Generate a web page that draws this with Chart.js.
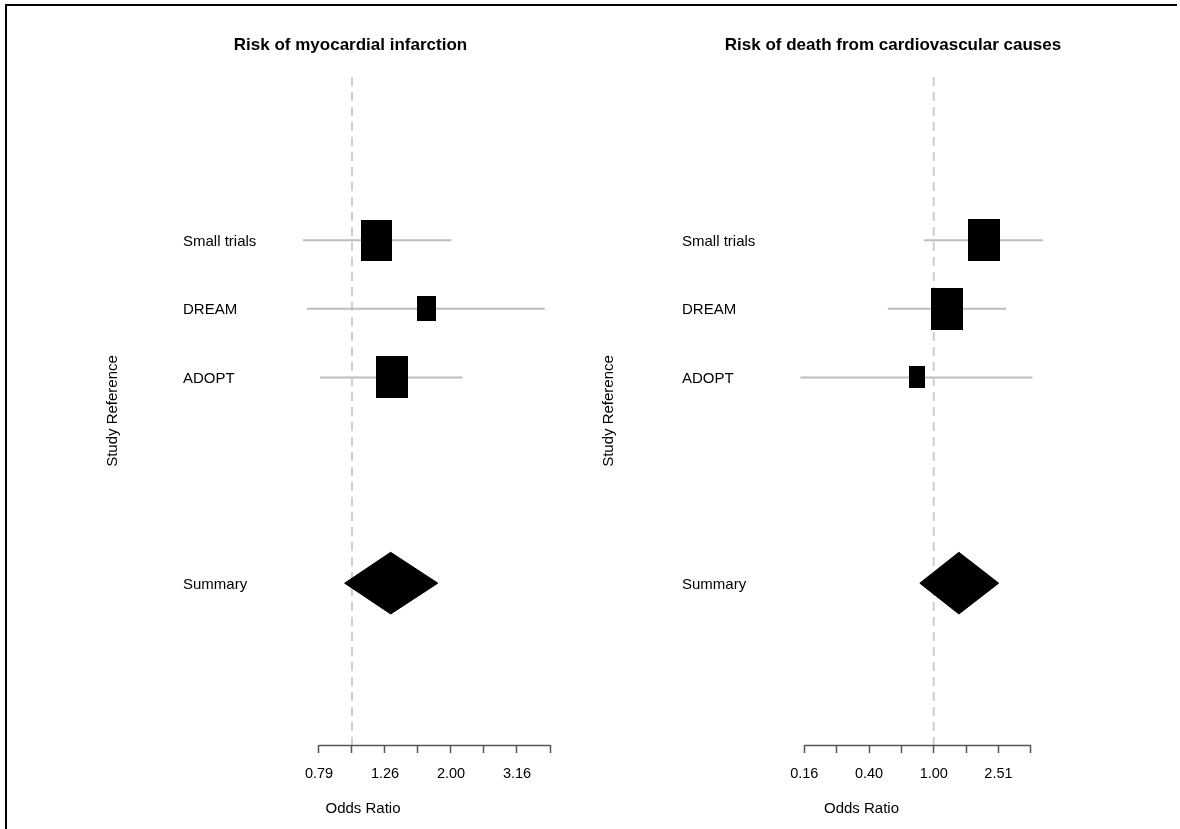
<!DOCTYPE html>
<html>
<head>
<meta charset="utf-8">
<script src="https://cdn.jsdelivr.net/npm/chart.js@4.4.0/dist/chart.umd.min.js"></script>
<style>
  html, body { margin: 0; padding: 0; background: #fff; overflow: hidden; width: 1180px; height: 829px; }
  canvas { position: absolute; top: 0; }
  #left { left: 0; }
  #right { left: 590px; }
  #frame { position: absolute; left: 5px; top: 4px; width: 1172px; height: 830px; border-top: 2px solid #000; border-left: 2px solid #000; box-sizing: border-box; }
</style>
</head>
<body>
<div id="frame"></div>
<canvas id="left" width="597" height="829"></canvas>
<canvas id="right" width="596" height="829"></canvas>
<script>
const studies = ['Small trials', 'DREAM', 'ADOPT'];
const summaryLabel = 'Summary';

// Risk of myocardial infarction
const miOR    = [1.19, 1.68, 1.32];
const miLower = [0.71, 0.73, 0.80];
const miUpper = [2.00, 3.84, 2.16];
const miSummary = [1.31, 0.95, 1.82]; // OR, lower, upper
const miTickExp = [-0.1, 0, 0.1, 0.2, 0.3, 0.4, 0.5, 0.6];
const miTickLabels = ['0.79', '', '1.26', '', '2.00', '', '3.16', ''];

// Risk of death from cardiovascular causes
const cvOR    = [2.03, 1.20, 0.785];
const cvLower = [0.87, 0.52, 0.15];
const cvUpper = [4.73, 2.81, 4.07];
const cvSummary = [1.43, 0.82, 2.52];
const cvTickExp = [-0.8, -0.6, -0.4, -0.2, 0, 0.2, 0.4, 0.6];
const cvTickLabels = ['0.16', '', '0.40', '', '1.00', '', '2.51', ''];

const Y_MIN = -2.38, Y_MAX = 7.36;
const MAX_BOX = 42.3, BOX_RATIO = 0.755, DIAMOND_H = 0.45;
const FONT = 'Liberation Sans, Arial, Helvetica, sans-serif';

const boxCache = {};
function boxImage(h) {
  const w = Math.max(1, Math.round(h * BOX_RATIO)), hh = Math.max(1, Math.round(h));
  const key = w + 'x' + hh;
  if (!boxCache[key]) {
    const c = document.createElement('canvas');
    c.width = w; c.height = hh;
    const g = c.getContext('2d');
    g.fillStyle = '#000';
    g.fillRect(0, 0, w, hh);
    boxCache[key] = c;
  }
  return boxCache[key];
}

// R-style axis: line only from first to last tick
const axisLine = {
  id: 'axisLine',
  afterDraw(chart) {
    const s = chart.scales.x, ctx = chart.ctx;
    const x0 = s.getPixelForValue(s.ticks[0].value);
    const x1 = s.getPixelForValue(s.ticks[s.ticks.length - 1].value);
    ctx.save();
    ctx.strokeStyle = '#555';
    ctx.lineWidth = 1.5;
    ctx.beginPath();
    ctx.moveTo(x0, s.top + 0.5);
    ctx.lineTo(x1, s.top + 0.5);
    ctx.stroke();
    ctx.restore();
  }
};

function makePanel(id, title, or, lo, hi, summary, tickExp, tickLabels, lay) {
  const rows = studies.map((s, i) => i);
  const sumRow = studies.length + 2;
  const widths = or.map((v, i) => Math.log10(hi[i]) - Math.log10(lo[i]));
  const minW = Math.min(...widths);
  const sizes = widths.map(w => MAX_BOX * minW / w);

  const ciSets = or.map((v, i) => ({
    type: 'line',
    data: [{x: lo[i], y: rows[i]}, {x: hi[i], y: rows[i]}],
    borderColor: '#bdbdbd', borderWidth: 2, pointRadius: 0, order: 3
  }));

  const datasets = [
    {
      type: 'line',
      data: [{x: 1, y: Y_MIN}, {x: 1, y: Y_MAX}],
      borderColor: '#cfcfcf', borderWidth: 2, borderDash: [9, 6], pointRadius: 0, order: 4
    },
    ...ciSets,
    {
      type: 'scatter',
      data: or.map((v, i) => ({x: v, y: rows[i]})),
      pointStyle: c => (c.dataIndex === undefined ? 'rect' : boxImage(sizes[c.dataIndex])),
      pointRadius: 2, backgroundColor: '#000', borderColor: '#000', order: 1
    },
    {
      type: 'line',
      data: [
        {x: summary[1], y: sumRow},
        {x: summary[0], y: sumRow - DIAMOND_H},
        {x: summary[2], y: sumRow},
        {x: summary[0], y: sumRow + DIAMOND_H},
        {x: summary[1], y: sumRow}
      ],
      fill: 'shape', backgroundColor: '#000', borderColor: '#000', borderWidth: 1,
      pointRadius: 0, tension: 0, order: 1
    }
  ];

  const tickValues = tickExp.map(e => Math.pow(10, e));

  return new Chart(document.getElementById(id), {
    type: 'scatter',
    data: { datasets },
    plugins: [axisLine],
    options: {
      responsive: false,
      animation: false,
      events: [],
      layout: { padding: { left: lay.padLeft, right: 0, top: 0, bottom: 0 } },
      plugins: {
        legend: { display: false },
        tooltip: { enabled: false },
        title: {
          display: true, text: title, color: '#000',
          font: { family: FONT, size: 17, weight: 'bold' },
          padding: { top: 34.8, bottom: 21.8 }
        }
      },
      scales: {
        x: {
          type: 'logarithmic', position: 'bottom', bounds: 'data',
          min: lay.xMin, max: lay.xMax,
          afterBuildTicks: s => { s.ticks = tickValues.map(v => ({value: v})); },
          afterFit: s => { s.height = 84; },
          grid: { drawOnChartArea: false, drawTicks: true, tickLength: 8, tickColor: '#555', tickWidth: 1.5 },
          border: { display: false },
          ticks: {
            autoSkip: false, maxRotation: 0, padding: 12.3, color: '#000',
            font: { family: FONT, size: 14.5 },
            callback: (v, i) => tickLabels[i]
          },
          title: {
            display: true, text: 'Odds Ratio', color: '#000',
            font: { family: FONT, size: 15 }, padding: { top: 0, bottom: 11 }
          }
        },
        y: {
          type: 'linear', position: 'left', reverse: true,
          min: Y_MIN, max: Y_MAX,
          afterBuildTicks: s => { s.ticks = rows.concat([sumRow]).map(v => ({value: v})); },
          afterFit: s => { s.width = lay.yWidth; },
          grid: { display: false, drawTicks: false },
          border: { display: false },
          ticks: {
            mirror: true, padding: 7, labelOffset: 1.5, color: '#000', autoSkip: false,
            font: { family: FONT, size: 15 },
            callback: (v, i) => studies.concat([summaryLabel])[i]
          },
          title: {
            display: true, text: 'Study Reference', color: '#000',
            font: { family: FONT, size: 15 }, padding: { top: 0, bottom: 0 }
          }
        },
        yPad: {
          type: 'linear', position: 'right', display: true,
          afterFit: s => { s.width = lay.padWidth; },
          grid: { display: false }, border: { display: false },
          ticks: { display: false }
        }
      }
    }
  });
}

makePanel('left', 'Risk of myocardial infarction', miOR, miLower, miUpper, miSummary,
  miTickExp, miTickLabels,
  { padLeft: 104, yWidth: 72, padWidth: 47, xMin: Math.pow(10, -0.5333), xMax: Math.pow(10, 0.6) });

makePanel('right', 'Risk of death from cardiovascular causes', cvOR, cvLower, cvUpper, cvSummary,
  cvTickExp, cvTickLabels,
  { padLeft: 10, yWidth: 75, padWidth: 138, xMin: Math.pow(10, -1.599), xMax: Math.pow(10, 0.706) });
</script>
</body>
</html>
